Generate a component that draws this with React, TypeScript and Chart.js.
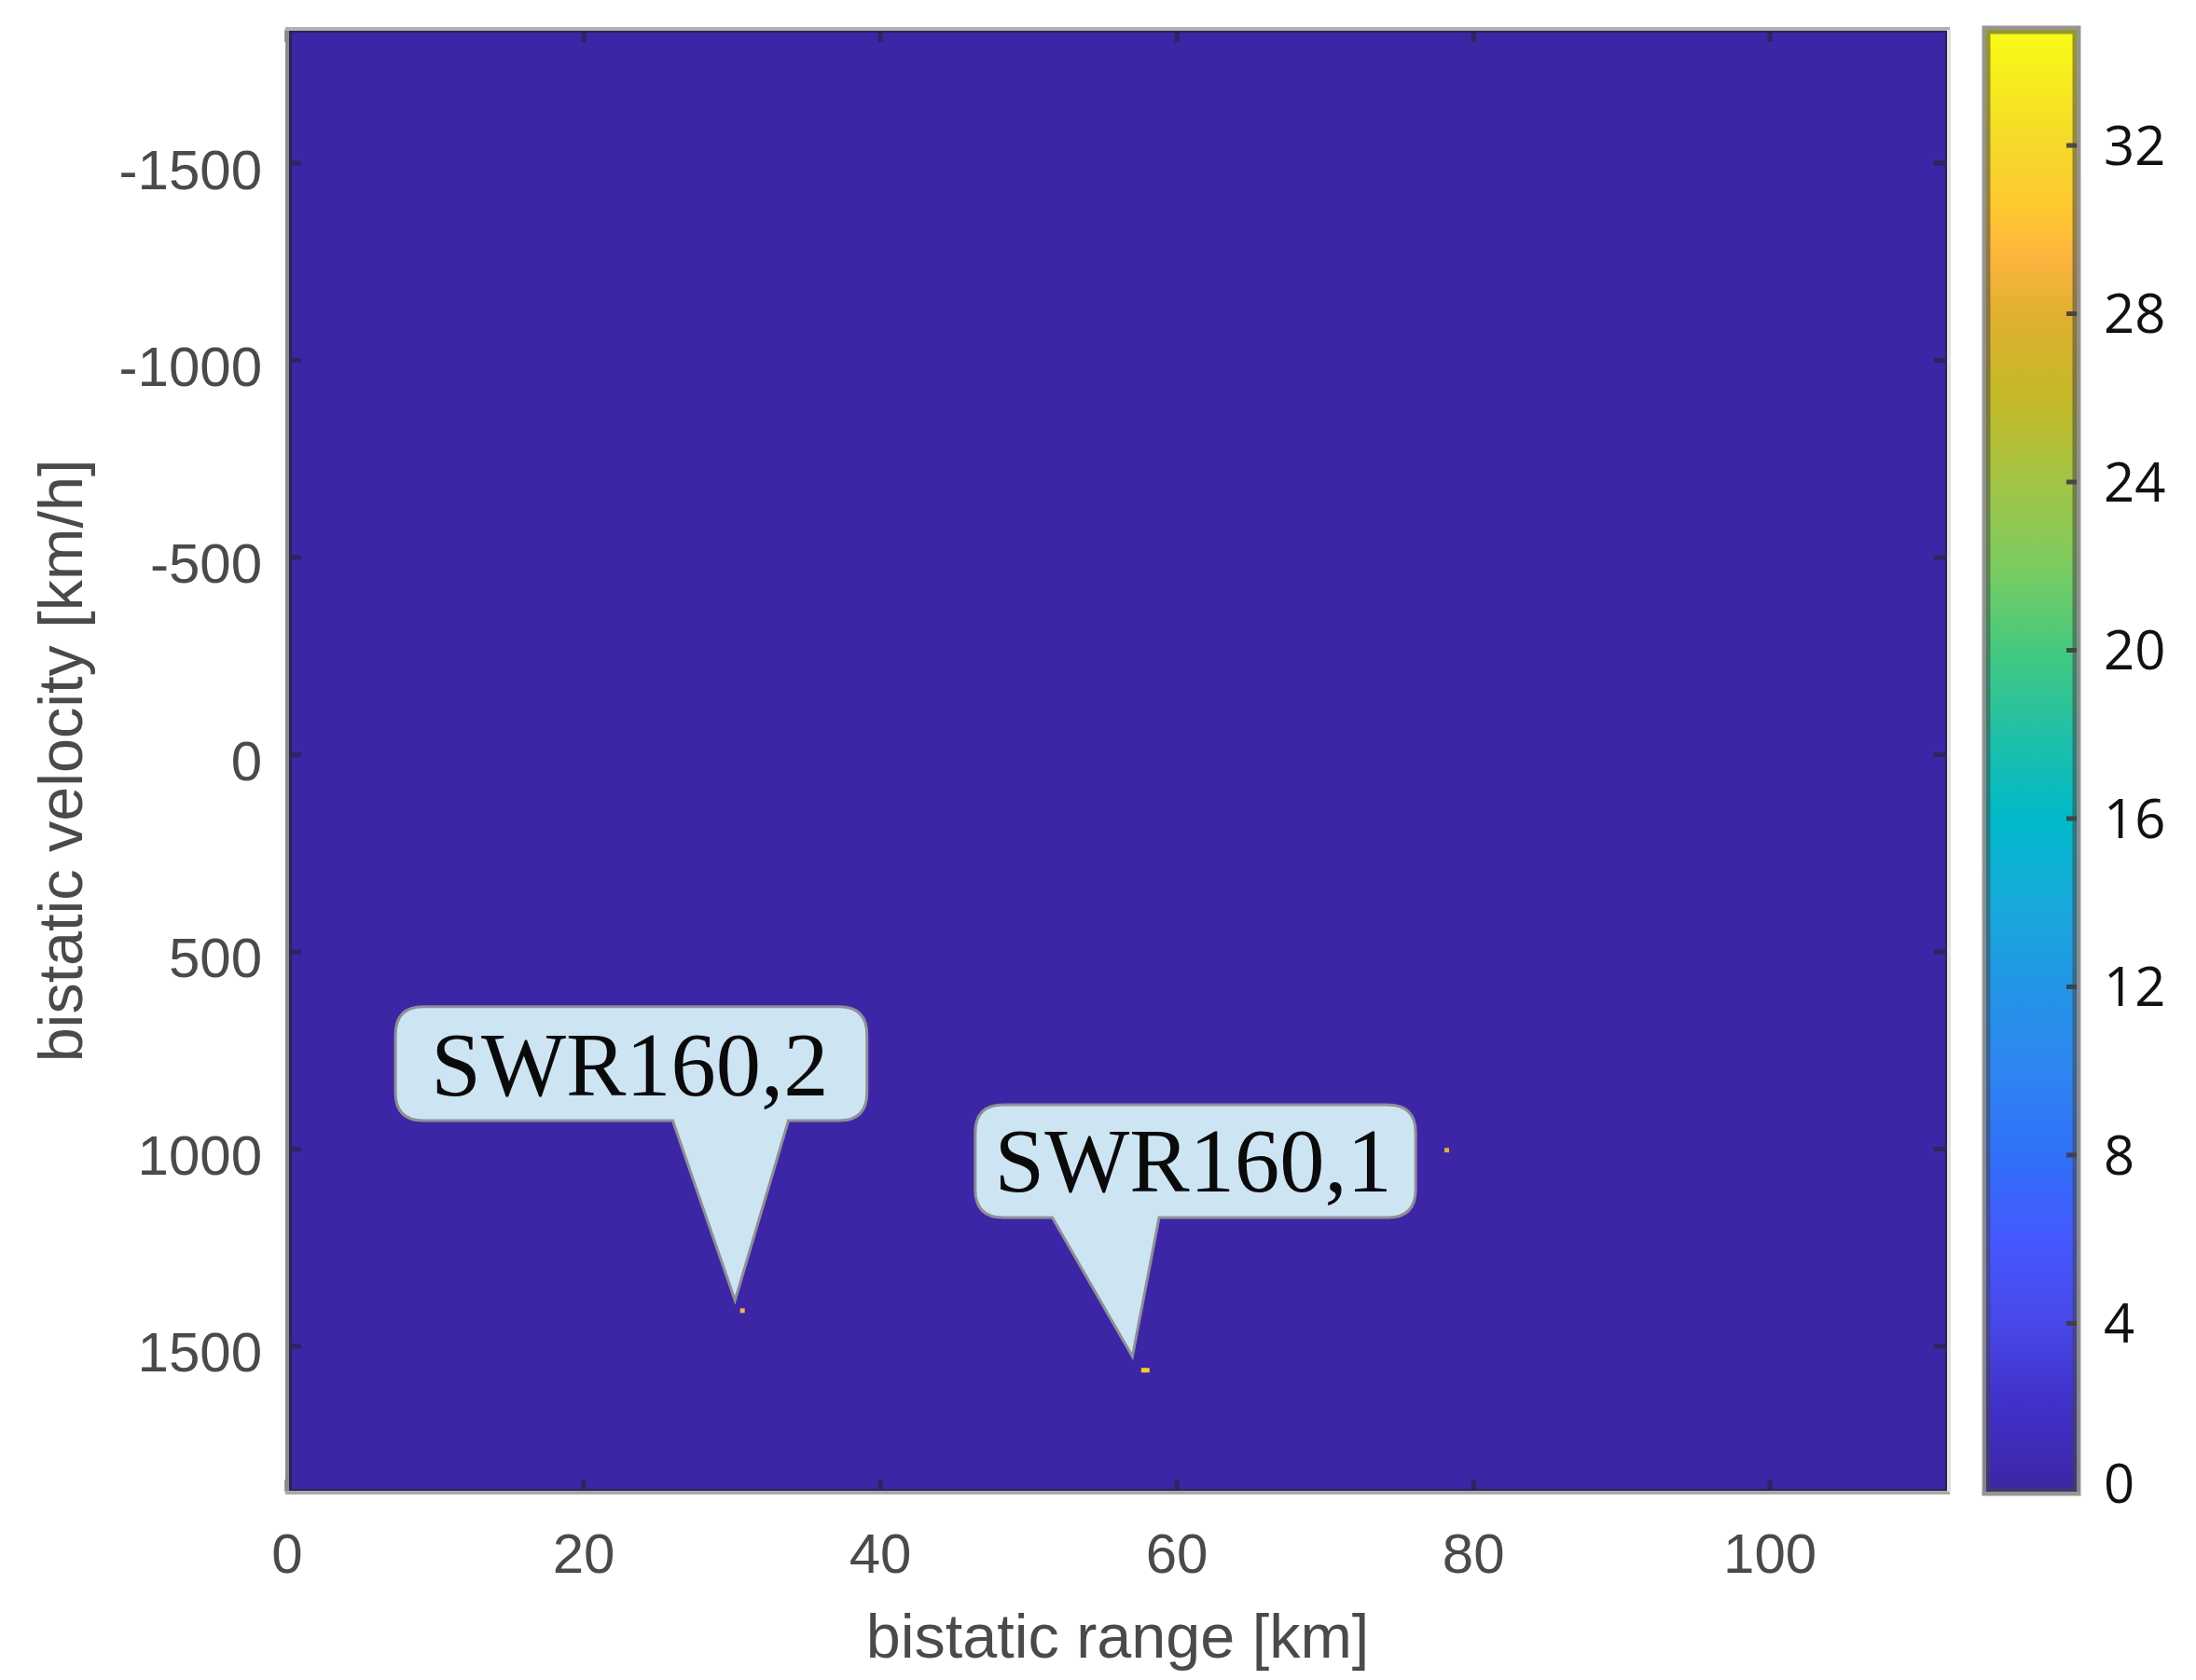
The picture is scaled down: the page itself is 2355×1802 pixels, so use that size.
import { useEffect, useRef } from "react";
import Chart from "chart.js/auto";

// axis ticks
const rangeTicks = [0, 20, 40, 60, 80, 100];
const velocityTicks = [-1500, -1000, -500, 0, 500, 1000, 1500];
const colorTicks = [0, 4, 8, 12, 16, 20, 24, 28, 32];

// non-zero cells of the range/velocity map
const cellRange = [30.7, 57.75, 58.0, 78.2];
const cellVelocity = [1410, 1561, 1561, 1003];
const cellValue = [29, 31, 31, 28];

// colour map
const colorValues = [0, 2, 4, 6, 8, 10, 12, 14, 16, 18, 20, 22, 24, 26, 28, 29.3, 30.5, 32, 34.75];
const colorStops = [
  "#3c26a5", "#4030c8", "#4848e8", "#4558ff", "#3070f8", "#2f85f2", "#2295e5", "#18aadc", "#00b9c8", "#20c0a8",
  "#45c97f", "#7ccc60", "#a3c445", "#c4b927", "#e0b030", "#fdb53f", "#ffc830", "#f5d92a", "#f9fb15",
];

// callouts, in data units
const calloutLabels = ["SWR160,2", "SWR160,1"];
const calloutBoxX = [[7.3, 39.1], [46.4, 76.1]];
const calloutBoxY = [[639, 928], [888, 1174]];
const calloutTailX = [[26.0, 33.8], [51.6, 58.8]];
const calloutTip = [[30.2, 1384], [57.0, 1526]];
const calloutText = [[9.7, 864], [47.7, 1108]];

const tickFont = { family: "'Liberation Sans'", size: 60 };
const titleFont = { family: "'Liberation Sans'", size: 66.5 };
const tickGrey = "#4a4a4a";

function colorFor(v: number) {
  let best = 0;
  colorValues.forEach((c, i) => {
    if (Math.abs(c - v) < Math.abs(colorValues[best] - v)) best = i;
  });
  return colorStops[best];
}

const mapFrame = {
  id: "mapFrame",
  beforeDatasetsDraw(chart: any) {
    const { ctx, chartArea: a } = chart;
    ctx.save();
    ctx.fillStyle = colorStops[0];
    ctx.fillRect(a.left, a.top, a.right - a.left, a.bottom - a.top);
    ctx.restore();
  },
  afterDatasetsDraw(chart: any) {
    const { ctx, chartArea: a, scales } = chart;
    ctx.save();

    // callouts
    calloutLabels.forEach((label, i) => {
      const x = scales.x;
      const y = scales.y;
      const l = x.getPixelForValue(calloutBoxX[i][0]);
      const r = x.getPixelForValue(calloutBoxX[i][1]);
      const t = y.getPixelForValue(calloutBoxY[i][0]);
      const b = y.getPixelForValue(calloutBoxY[i][1]);
      const rad = 30;
      ctx.beginPath();
      ctx.moveTo(l + rad, t);
      ctx.lineTo(r - rad, t);
      ctx.quadraticCurveTo(r, t, r, t + rad);
      ctx.lineTo(r, b - rad);
      ctx.quadraticCurveTo(r, b, r - rad, b);
      ctx.lineTo(x.getPixelForValue(calloutTailX[i][1]), b);
      ctx.lineTo(x.getPixelForValue(calloutTip[i][0]), y.getPixelForValue(calloutTip[i][1]));
      ctx.lineTo(x.getPixelForValue(calloutTailX[i][0]), b);
      ctx.lineTo(l + rad, b);
      ctx.quadraticCurveTo(l, b, l, b - rad);
      ctx.lineTo(l, t + rad);
      ctx.quadraticCurveTo(l, t, l + rad, t);
      ctx.closePath();
      ctx.fillStyle = "#cde4f3";
      ctx.fill();
      ctx.strokeStyle = "#8f8f98";
      ctx.lineWidth = 3;
      ctx.stroke();
      ctx.fillStyle = "#0a0a0a";
      ctx.font = "96.5px 'Liberation Serif'";
      ctx.textAlign = "left";
      ctx.textBaseline = "alphabetic";
      ctx.fillText(label, x.getPixelForValue(calloutText[i][0]), y.getPixelForValue(calloutText[i][1]));
    });

    // ticks point inward on all four sides
    ctx.strokeStyle = "#2b2560";
    ctx.lineWidth = 5;
    ctx.beginPath();
    rangeTicks.forEach((v) => {
      const px = scales.x.getPixelForValue(v);
      ctx.moveTo(px, a.bottom);
      ctx.lineTo(px, a.bottom - 13);
      ctx.moveTo(px, a.top);
      ctx.lineTo(px, a.top + 13);
    });
    velocityTicks.forEach((v) => {
      const py = scales.y.getPixelForValue(v);
      ctx.moveTo(a.left, py);
      ctx.lineTo(a.left + 15, py);
      ctx.moveTo(a.right, py);
      ctx.lineTo(a.right - 15, py);
    });
    ctx.stroke();

    // box: dark inner line, grey outer edge on the left and bottom, pale on the right
    ctx.strokeStyle = "#2a2356";
    ctx.lineWidth = 3;
    ctx.strokeRect(a.left + 3.5, a.top + 1.5, a.right - a.left - 5, a.bottom - a.top - 3);
    ctx.lineWidth = 4;
    ctx.strokeStyle = "#8a8a8a";
    ctx.beginPath();
    ctx.moveTo(a.left, a.top - 2);
    ctx.lineTo(a.left, a.bottom + 3);
    ctx.stroke();
    ctx.strokeStyle = "#a8a8a8";
    ctx.beginPath();
    ctx.moveTo(a.left - 2, a.bottom + 1);
    ctx.lineTo(a.right + 2, a.bottom + 1);
    ctx.stroke();
    ctx.strokeStyle = "#b0b0b0";
    ctx.beginPath();
    ctx.moveTo(a.left - 2, a.top - 1);
    ctx.lineTo(a.right + 2, a.top - 1);
    ctx.stroke();
    ctx.strokeStyle = "#e0e0e0";
    ctx.beginPath();
    ctx.moveTo(a.right + 1, a.top);
    ctx.lineTo(a.right + 1, a.bottom);
    ctx.stroke();
    ctx.restore();
  },
};

const barFrame = {
  id: "barFrame",
  afterDatasetsDraw(chart: any) {
    const { ctx, chartArea: a, scales } = chart;
    ctx.save();
    ctx.strokeStyle = "rgba(60,60,60,0.9)";
    ctx.lineWidth = 5;
    ctx.beginPath();
    colorTicks.slice(1).forEach((v) => {
      const py = scales.y.getPixelForValue(v);
      ctx.moveTo(a.right - 2, py);
      ctx.lineTo(a.right - 14, py);
    });
    ctx.stroke();
    ctx.strokeStyle = "rgba(70,70,70,0.55)";
    ctx.lineWidth = 9;
    ctx.strokeRect(a.left + 3, a.top, a.right - a.left - 6, a.bottom - a.top);
    ctx.strokeStyle = "rgba(150,150,150,0.8)";
    ctx.lineWidth = 4;
    ctx.strokeRect(a.left + 1, a.top - 2, a.right - a.left - 2, a.bottom - a.top + 4);
    ctx.restore();
  },
};

// pin the plot box: tick labels must not push it inward
function noLabelPadding(s: any) {
  s.paddingTop = 0;
  s.paddingBottom = 0;
  s.paddingLeft = 0;
  s.paddingRight = 0;
}

export default function App() {
  const mapRef = useRef<HTMLCanvasElement>(null);
  const barRef = useRef<HTMLCanvasElement>(null);

  useEffect(() => {
    if (!mapRef.current || !barRef.current) return;

    const map = new Chart(mapRef.current, {
      type: "scatter",
      data: {
        datasets: [
          {
            data: cellRange.map((x, i) => ({ x, y: cellVelocity[i] })),
            pointStyle: "rect",
            pointRadius: 3.5,
            pointBorderWidth: 0,
            backgroundColor: cellValue.map(colorFor),
          },
        ],
      },
      options: {
        responsive: false,
        animation: false,
        devicePixelRatio: 1,
        layout: { padding: { top: 32, right: 21, left: 0, bottom: 0 } },
        plugins: { legend: { display: false }, tooltip: { enabled: false } },
        scales: {
          x: {
            type: "linear",
            min: 0,
            max: 112,
            afterBuildTicks: (s: any) => {
              s.ticks = rangeTicks.map((value) => ({ value }));
            },
            afterFit: (s: any) => {
              s.height = 202;
              noLabelPadding(s);
            },
            grid: { display: false, drawTicks: false },
            border: { display: false },
            ticks: {
              font: tickFont,
              color: tickGrey,
              padding: 34,
              maxRotation: 0,
              autoSkip: false,
              callback: (v: any) => String(v),
            },
            title: {
              display: true,
              text: "bistatic range [km]",
              font: titleFont,
              color: tickGrey,
              padding: { top: 0, bottom: 2 },
            },
          },
          y: {
            type: "linear",
            reverse: true,
            min: -1838,
            max: 1869,
            afterBuildTicks: (s: any) => {
              s.ticks = velocityTicks.map((value) => ({ value }));
            },
            afterFit: (s: any) => {
              s.width = 308;
              noLabelPadding(s);
            },
            grid: { display: false, drawTicks: false },
            border: { display: false },
            ticks: {
              font: tickFont,
              color: tickGrey,
              padding: 27,
              labelOffset: 11,
              autoSkip: false,
              callback: (v: any) => String(v),
            },
            title: {
              display: true,
              text: "bistatic velocity [km/h]",
              font: titleFont,
              color: tickGrey,
              padding: { top: 30, bottom: 0 },
            },
          },
        },
      },
      plugins: [mapFrame],
    } as any);

    const maxColor = colorValues[colorValues.length - 1];
    const bar = new Chart(barRef.current, {
      type: "bar",
      data: {
        labels: ["colour"],
        datasets: [
          {
            data: [[0, maxColor]],
            barPercentage: 1,
            categoryPercentage: 1,
            borderWidth: 0,
            backgroundColor: (c: any) => {
              const { chart } = c;
              if (!chart.chartArea) return colorStops[0];
              const g = chart.ctx.createLinearGradient(0, chart.chartArea.bottom, 0, chart.chartArea.top);
              colorValues.forEach((v, i) => g.addColorStop(v / maxColor, colorStops[i]));
              return g;
            },
          },
        ],
      },
      options: {
        responsive: false,
        animation: false,
        devicePixelRatio: 1,
        layout: { padding: { top: 32, right: 0, left: 17, bottom: 202 } },
        plugins: { legend: { display: false }, tooltip: { enabled: false } },
        scales: {
          x: { display: false },
          y: {
            type: "linear",
            position: "right",
            min: 0,
            max: maxColor,
            afterBuildTicks: (s: any) => {
              s.ticks = colorTicks.map((value) => ({ value }));
            },
            afterFit: (s: any) => {
              s.width = 125;
              noLabelPadding(s);
            },
            grid: { display: false, drawTicks: false },
            border: { display: false },
            ticks: {
              // the 0 label sits a little above its tick: a short blank second line lifts it
              font: (c: any) => ({ family: "'Open Sans'", size: 58, lineHeight: c.index === 0 ? 0.28 : 1.2 }),
              color: "#111111",
              padding: 26,
              labelOffset: 4,
              autoSkip: false,
              callback: (v: any) => (v === 0 ? ["0", ""] : String(v)),
            },
          },
        },
      },
      plugins: [barFrame],
    } as any);

    return () => {
      map.destroy();
      bar.destroy();
    };
  }, []);

  return (
    <div style={{ position: "absolute", left: 0, top: 0, width: 2355, height: 1802, background: "#fff", overflow: "hidden" }}>
      <canvas ref={mapRef} width={2110} height={1802} style={{ position: "absolute", left: 0, top: 0 }} />
      <canvas ref={barRef} width={245} height={1802} style={{ position: "absolute", left: 2110, top: 0 }} />
    </div>
  );
}
